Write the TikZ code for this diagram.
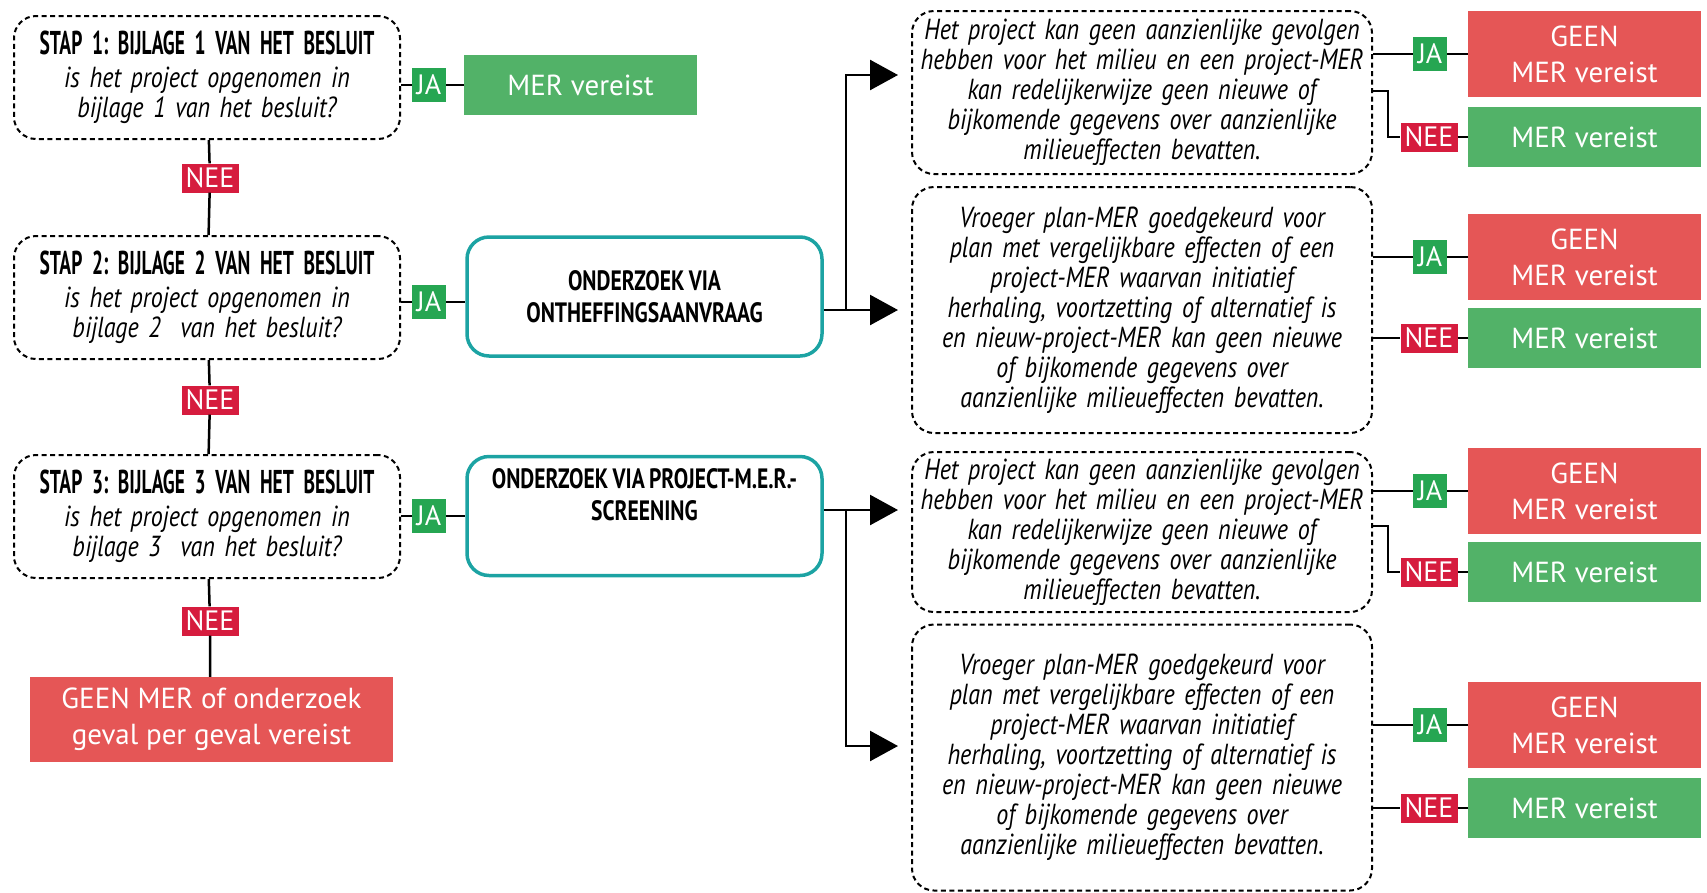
\documentclass[tikz,border=0pt]{standalone}
\usepackage{fontspec}
\setmainfont{PT Sans}
\newfontfamily\hdr[FakeStretch=0.59,WordSpace=0.8]{PT Sans}
\newfontfamily\thdr[FakeStretch=0.77,WordSpace=0.8]{PT Sans}
\newfontfamily\bdy[FakeStretch=0.83,WordSpace=0.75]{PT Sans}
\usetikzlibrary{arrows.meta}
\definecolor{mergreen}{RGB}{82,178,104}
\definecolor{geenred}{RGB}{229,86,86}
\definecolor{neered}{RGB}{214,28,62}
\definecolor{jagreen}{RGB}{38,166,82}
\definecolor{teal1}{RGB}{28,163,163}
\tikzset{
 qbox/.style={draw, line width=2pt, dashed, dash pattern=on 5pt off 3.5pt, rounded corners=22pt, align=center, inner sep=0pt, font=\bdy\itshape\fontsize{29}{30}\selectfont},
 tealbox/.style={draw=teal1, line width=3.5pt, rounded corners=22pt, minimum width=355pt, minimum height=119pt, align=center, font=\thdr\bfseries\fontsize{28}{32}\selectfont},
 redbox/.style={fill=geenred, text=white, minimum width=233pt, align=center, inner sep=0pt, font=\fontsize{29}{36}\selectfont},
 grnbox/.style={fill=mergreen, text=white, minimum width=233pt, minimum height=60pt, inner sep=0pt, font=\fontsize{29}{33}\selectfont},
 ja/.style={fill=jagreen, text=white, minimum width=34pt, minimum height=34pt, inner sep=0pt, font=\fontsize{28}{28}\selectfont},
 nee/.style={fill=neered, text=white, minimum width=57pt, minimum height=29pt, inner sep=0pt, font=\fontsize{28}{28}\selectfont},
 ln/.style={line width=2.5pt},
 arr/.style={line width=2.5pt, -{Triangle[length=28pt,width=30pt]}, shorten >=13pt},
}
\newcommand\hdline[1]{{\hdr\upshape\bfseries\fontsize{33}{30}\selectfont #1}}
\begin{document}
\frenchspacing
\begin{tikzpicture}[x=1pt,y=-1pt]
\useasboundingbox (0,0) rectangle (1707,892);
% left column
\node[qbox, minimum width=386pt, minimum height=123pt, text width=380pt] (s1) at (207,77.5)
 {\hdline{STAP 1: BIJLAGE 1 VAN HET BESLUIT}\\[3pt] is het project opgenomen in\\ bijlage 1 van het besluit?};
\node[qbox, minimum width=386pt, minimum height=123pt, text width=380pt] (s2) at (207,297.5)
 {\hdline{STAP 2: BIJLAGE 2 VAN HET BESLUIT}\\[3pt] is het project opgenomen in\\ bijlage 2\ \ van het besluit?};
\node[qbox, minimum width=386pt, minimum height=123pt, text width=380pt] (s3) at (207,516.5)
 {\hdline{STAP 3: BIJLAGE 3 VAN HET BESLUIT}\\[3pt] is het project opgenomen in\\ bijlage 3\ \ van het besluit?};
\node[nee] (nee1) at (210,178) {NEE};
\node[nee] (nee2) at (210,400) {NEE};
\node[nee] (nee3) at (210,621) {NEE};
\node[redbox, minimum width=363pt, minimum height=85pt] (geen) at (211.5,719.5) {GEEN MER of onderzoek\\ geval per geval vereist};
\node[ja] (ja1) at (429,85) {JA};
\node[ja] (ja2) at (429,302) {JA};
\node[ja] (ja3) at (429,516) {JA};
\node[grnbox] (mer1) at (580.5,85) {MER vereist};
\node[tealbox] (on1) at (644.5,296.5) {ONDERZOEK VIA\\ ONTHEFFINGSAANVRAAG};
\node[tealbox] (on2) at (644.5,516) {ONDERZOEK VIA PROJECT-M.E.R.-\\ SCREENING\\[12pt]};
% right boxes
\node[qbox, minimum width=460pt, minimum height=163pt, text width=450pt] (r1) at (1142,92.5)
 {Het project kan geen aanzienlijke gevolgen\\ hebben voor het milieu en een project-MER\\ kan redelijkerwijze geen nieuwe of\\ bijkomende gegevens over aanzienlijke\\ milieueffecten bevatten.};
\node[qbox, minimum width=460pt, minimum height=246pt, text width=450pt] (r2) at (1142,310)
 {Vroeger plan-MER goedgekeurd voor\\ plan met vergelijkbare effecten of een\\ project-MER waarvan initiatief\\ herhaling, voortzetting of alternatief is\\ en nieuw-project-MER kan geen nieuwe\\ of bijkomende gegevens over\\ aanzienlijke milieueffecten bevatten.};
\node[qbox, minimum width=460pt, minimum height=160pt, text width=450pt] (r3) at (1142,532)
 {Het project kan geen aanzienlijke gevolgen\\ hebben voor het milieu en een project-MER\\ kan redelijkerwijze geen nieuwe of\\ bijkomende gegevens over aanzienlijke\\ milieueffecten bevatten.};
\node[qbox, minimum width=460pt, minimum height=266pt, text width=450pt] (r4) at (1142,757.5)
 {Vroeger plan-MER goedgekeurd voor\\ plan met vergelijkbare effecten of een\\ project-MER waarvan initiatief\\ herhaling, voortzetting of alternatief is\\ en nieuw-project-MER kan geen nieuwe\\ of bijkomende gegevens over\\ aanzienlijke milieueffecten bevatten.};
% result labels
\node[ja] (rj1) at (1430,54) {JA};
\node[redbox, minimum height=86pt] (rr1) at (1584.5,54) {GEEN\\ MER vereist};
\node[nee] (rn1) at (1429,137) {NEE};
\node[grnbox] (rg1) at (1584.5,137) {MER vereist};
\node[ja] (rj2) at (1430,257) {JA};
\node[redbox, minimum height=86pt] (rr2) at (1584.5,257) {GEEN\\ MER vereist};
\node[nee] (rn2) at (1429,338) {NEE};
\node[grnbox] (rg2) at (1584.5,338) {MER vereist};
\node[ja] (rj3) at (1430,491) {JA};
\node[redbox, minimum height=86pt] (rr3) at (1584.5,491) {GEEN\\ MER vereist};
\node[nee] (rn3) at (1429,572) {NEE};
\node[grnbox] (rg3) at (1584.5,572) {MER vereist};
\node[ja] (rj4) at (1430,725) {JA};
\node[redbox, minimum height=86pt] (rr4) at (1584.5,725) {GEEN\\ MER vereist};
\node[nee] (rn4) at (1429,808) {NEE};
\node[grnbox] (rg4) at (1584.5,808) {MER vereist};
% coordinates
\coordinate (b1) at (846,75);
\coordinate (b2) at (846,310);
\coordinate (b3) at (846,510);
\coordinate (b4) at (846,746);
\coordinate (k1) at (1388,91);
\coordinate (k3) at (1388,526);
% connectors left
\draw[ln] (s1) -- (nee1) -- (s2) -- (nee2) -- (s3) -- (nee3) -- (nee3 |- geen.north);
\draw[ln] (s1.east |- ja1) -- (ja1) -- (mer1);
\draw[ln] (s2.east |- ja2) -- (ja2) -- (on1.west |- ja2);
\draw[ln] (s3.east |- ja3) -- (ja3) -- (on2.west |- ja3);
% branches
\draw[ln] (on1.east |- b2) -- (b2);
\draw[arr] (b2) -- (r2.west |- b2);
\draw[arr] (b2) -- (b1) -- (r1.west |- b1);
\draw[ln] (on2.east |- b3) -- (b3);
\draw[arr] (b3) -- (r3.west |- b3);
\draw[arr] (b3) -- (b4) -- (r4.west |- b4);
% right connectors
\draw[ln] (r1.east |- rj1) -- (rj1) -- (rr1);
\draw[ln] (r1.east |- k1) -- (k1) |- (rn1) -- (rg1);
\draw[ln] (r2.east |- rj2) -- (rj2) -- (rr2);
\draw[ln] (r2.east |- rn2) -- (rn2) -- (rg2);
\draw[ln] (r3.east |- rj3) -- (rj3) -- (rr3);
\draw[ln] (r3.east |- k3) -- (k3) |- (rn3) -- (rg3);
\draw[ln] (r4.east |- rj4) -- (rj4) -- (rr4);
\draw[ln] (r4.east |- rn4) -- (rn4) -- (rg4);
\end{tikzpicture}
\end{document}
